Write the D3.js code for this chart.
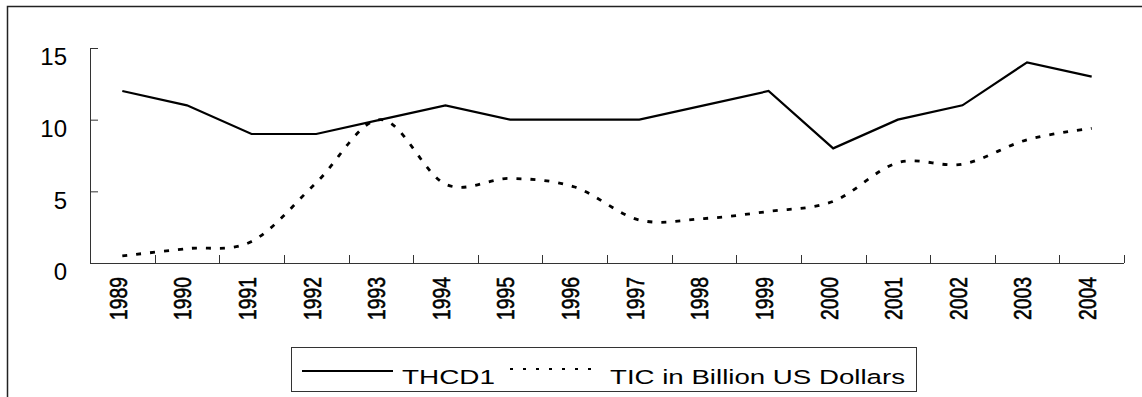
<!DOCTYPE html>
<html>
<head>
<meta charset="utf-8">
<script src="https://cdn.jsdelivr.net/npm/d3@7"></script>
<style>
  html, body { margin: 0; padding: 0; background: #fff; }
  svg { display: block; }
  text { font-family: "Liberation Sans", Arial, sans-serif; fill: #000; }
</style>
</head>
<body>
<svg id="chart" width="1142" height="397"></svg>
<script>
// Years on the category axis
const years = ["1989","1990","1991","1992","1993","1994","1995","1996",
               "1997","1998","1999","2000","2001","2002","2003","2004"];
// THCD1 index
const thcd1 = [12, 11, 9, 9, 10, 11, 10, 10, 10, 11, 12, 8, 10, 11, 14, 13];
// TIC in billion US dollars
const tic = [0.5, 1.0, 1.5, 5.6, 10, 5.5, 5.9, 5.3, 3.0, 3.1, 3.6, 4.3, 7.0, 6.9, 8.6, 9.4];
// Value axis ticks
const yTicks = [0, 5, 10, 15];
const seriesNames = ["THCD1", "TIC in Billion US Dollars"];

const svg = d3.select("#chart");
const W = 1142, H = 397;
const plot = { left: 90, right: 1124, top: 48, bottom: 263 };

// Outer chart frame (runs off the right and bottom edges)
svg.append("rect")
  .attr("x", 7.5).attr("y", 6.5)
  .attr("width", W + 20).attr("height", H + 20)
  .attr("fill", "none").attr("stroke", "#222").attr("stroke-width", 1.5);

const x = d3.scaleBand().domain(years).range([plot.left, plot.right]).padding(0);
const y = d3.scaleLinear().domain([0, 15]).range([plot.bottom, plot.top]);
const cx = d => x(d) + x.bandwidth() / 2;

// Value axis: line, inward ticks, labels
const yAxis = svg.append("g")
  .attr("transform", `translate(${plot.left},0)`)
  .call(d3.axisRight(y).tickValues(yTicks).tickSize(8).tickFormat(""));
yAxis.select(".domain").remove();
yAxis.selectAll(".tick line").attr("stroke", "#333").attr("stroke-width", 1);
svg.append("line")
  .attr("x1", plot.left + 0.5).attr("x2", plot.left + 0.5)
  .attr("y1", y(15)).attr("y2", y(0))
  .attr("stroke", "#333").attr("stroke-width", 1);

svg.append("g").selectAll("text")
  .data(yTicks).join("text")
  .attr("x", 67)
  .attr("y", d => y(d) + 9)
  .attr("dy", "0.35em")
  .attr("text-anchor", "end")
  .attr("font-size", 24)
  .text(d => d);

// Category axis: line, boundary ticks pointing up, rotated year labels
svg.append("line")
  .attr("x1", plot.left).attr("x2", plot.right)
  .attr("y1", plot.bottom + 0.5).attr("y2", plot.bottom + 0.5)
  .attr("stroke", "#333").attr("stroke-width", 1);
const boundaries = years.map(d => x(d)).concat([x(years[years.length - 1]) + x.bandwidth()]);
svg.append("g").selectAll("line")
  .data(boundaries.slice(1)).join("line")
  .attr("x1", d => Math.round(d) + 0.5).attr("x2", d => Math.round(d) + 0.5)
  .attr("y1", plot.bottom).attr("y2", plot.bottom - 8)
  .attr("stroke", "#333").attr("stroke-width", 1);

svg.append("g").selectAll("text")
  .data(years).join("text")
  .attr("transform", d => `translate(${cx(d) - 4},277) rotate(-90)`)
  .attr("text-anchor", "end")
  .attr("dy", "0.35em")
  .attr("font-size", 24)
  .attr("stroke", "#000").attr("stroke-width", 0.6)
  .attr("textLength", 43)
  .attr("lengthAdjust", "spacingAndGlyphs")
  .text(d => d);

// THCD1: straight segments
const straight = d3.line().x((d, i) => cx(years[i])).y(d => y(d));
svg.append("path")
  .datum(thcd1)
  .attr("d", straight)
  .attr("fill", "none").attr("stroke", "#000").attr("stroke-width", 2.2)
  .attr("stroke-linejoin", "miter");

// TIC: smoothed dotted line
const smooth = d3.line().x((d, i) => cx(years[i])).y(d => y(d))
  .curve(d3.curveCardinal.tension(0));
svg.append("path")
  .datum(tic)
  .attr("d", smooth)
  .attr("fill", "none").attr("stroke", "#000").attr("stroke-width", 2.8)
  .attr("stroke-dasharray", "5,9");

// Legend
const lg = svg.append("g");
lg.append("rect")
  .attr("x", 291.5).attr("y", 347.5).attr("width", 625).attr("height", 44)
  .attr("fill", "#fff").attr("stroke", "#333").attr("stroke-width", 1);
lg.append("line")
  .attr("x1", 302).attr("x2", 393).attr("y1", 371).attr("y2", 371)
  .attr("stroke", "#000").attr("stroke-width", 2);
lg.append("text")
  .attr("x", 402).attr("y", 384)
  .attr("font-size", 20.5)
  .attr("textLength", 93).attr("lengthAdjust", "spacingAndGlyphs")
  .text(seriesNames[0]);
lg.append("line")
  .attr("x1", 510).attr("x2", 598).attr("y1", 369).attr("y2", 369)
  .attr("stroke", "#000").attr("stroke-width", 2)
  .attr("stroke-dasharray", "3,10");
lg.append("text")
  .attr("x", 610).attr("y", 384)
  .attr("font-size", 20.5)
  .attr("textLength", 295).attr("lengthAdjust", "spacingAndGlyphs")
  .text(seriesNames[1]);
</script>
</body>
</html>
